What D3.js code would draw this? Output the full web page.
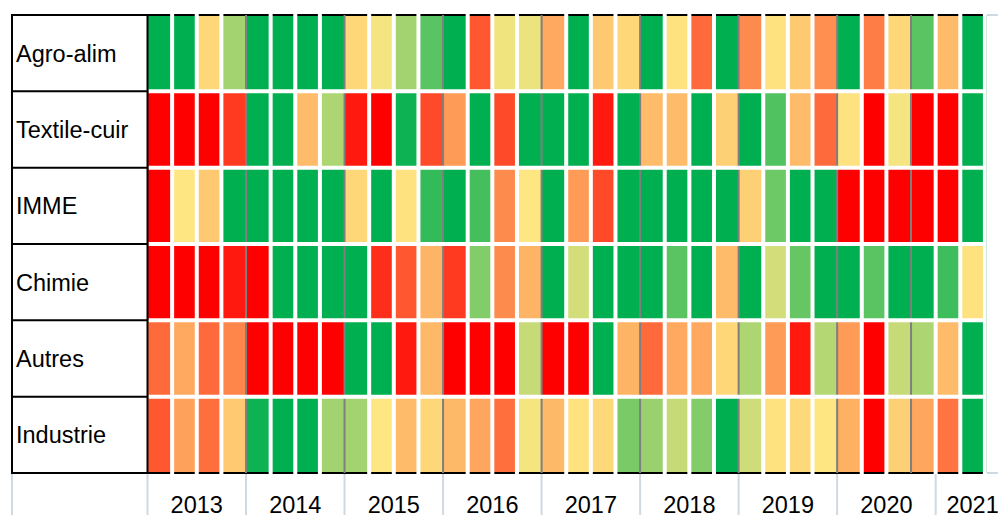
<!DOCTYPE html>
<html>
<head>
<meta charset="utf-8">
<script src="https://cdn.jsdelivr.net/npm/d3@7"></script>
<style>
body { margin: 0; background: #fff; }
#canvas { width: 998px; height: 515px; overflow: hidden; }
</style>
</head>
<body>
<div id="canvas"></div>
<script>
// ----------------------------------------------------------
// DATA -----------------------------------------------------
// ----------------------------------------------------------
var sectors = ["Agro-alim", "Textile-cuir", "IMME", "Chimie", "Autres", "Industrie"];

var years = ["2013", "2014", "2015", "2016", "2017", "2018", "2019", "2020", "2021"];

var quarter_names = ["T1", "T2", "T3", "T4"];

// score per quarter, -1 = red, 0 = yellow, +1 = green
var agro_alim = [1, 1, -0.07, 0.36, 1, 1, 1, 1, -0.07, 0.04, 0.36, 0.64, 1, -0.62, 0.055, 0.07, -0.27, 1, -0.13, -0.07, 1, -0.02, -0.54, 1, -0.4, -0.02, -0.13, -0.38, 1, -0.46, -0.07, 0.64, -0.19, 1];
var textile_cuir = [-1, -1, -1, -0.75, 1, 1, -0.19, 0.32, -0.89, -1, 0.95, -0.68, -0.33, 1, -0.68, 1, 1, 1, -0.89, 1, -0.19, -0.19, 1, -0.1, 1, 0.68, -0.19, -0.54, -0.02, -1, 0.04, -1, -1, 1];
var imme = [-1, 0, -0.13, 1, 1, 1, 1, 1, -0.07, 1, -0.02, 0.8, 1, 0.73, -0.4, 0, 1, -0.33, -0.68, 1, 1, 1, 1, 1, -0.1, 0.57, 1, 1, -1, -1, -1, -1, -1, 1];
var chimie = [-1, -1, -1, -0.89, -1, 1, 1, 1, 1, -0.8, -0.62, -0.22, -0.75, 0.49, -0.4, -0.22, 1, 0.17, 1, 1, 1, 0.64, 1, -0.19, 1, 0.17, 0.6, 1, 1, 0.64, 1, 1, 0.76, -0.02];
var autres = [-0.54, -0.27, -0.54, -0.42, -1, -1, -1, -1, 1, 1, -0.89, -0.2, -1, -1, -1, 0.22, -1, -1, 1, -0.22, -0.54, -0.27, -0.27, -0.07, 0.32, -0.33, -0.89, 0.29, -0.33, -1, 0.22, 0.32, -0.19, 1];
var industrie = [-0.62, -0.3, -0.52, -0.13, 0.95, 1, 1, 0.36, 0.36, 0, -0.19, -0.07, -0.2, -0.28, -0.52, 0.04, -0.2, -0.02, -0.06, 0.52, 0.4, 0.22, 0.49, 1, 0.19, -0.02, -0.06, 0, -0.24, -1, -0.1, -0.28, -0.5, 1];

// quarters where a dark divider is drawn on the left side
var divider_quarters = ["2014 T1", "2015 T1", "2016 T1", "2017 T1", "2018 T1", "2019 T1", "2020 T1", "2020 T4"];

var data_set =
{
container_width: 998,
container_height: 515,
table_left: 12,
grid_left: 147.5,
grid_top: 15,
grid_bottom: 473,
quarter_width: 24.63,
gap: 4,
font_size: 23.5,
color_red: "#ff0000",
color_yellow: "#fee782",
color_green: "#00b050",
color_border: "#000",
color_divider: "#7f7f7f",
color_axis: "#d0d8e4",
color_text: "#000"
};

// quarter categories: 2013 T1 ... 2021 T3 (last slot is empty)
var quarters = years.flatMap((y) => quarter_names.map((q) => y + " " + q)).slice(0, 35);

var series = [agro_alim, textile_cuir, imme, chimie, autres, industrie];

var cells = [];
sectors.forEach((s, i) => {
series[i].forEach((v, j) => {
cells.push({ sector: s, quarter: quarters[j], value: v });
});
});

// ----------------------------------------------------------
// STRUCTURE ------------------------------------------------
// ----------------------------------------------------------
var container = d3.select("#canvas").append("svg")
.attr("width", data_set.container_width)
.attr("height", data_set.container_height)
.style("font-family", "'Liberation Sans', Arial, sans-serif");

var gfx_group = container.append("g").attr("class", "gfx_group");
var table_group = container.append("g").attr("class", "table_group");
var axis_group = container.append("g").attr("class", "axis_group");

// ----------------------------------------------------------
// SCALES ---------------------------------------------------
// ----------------------------------------------------------
var xScale = d3.scaleBand()
.domain(quarters)
.range([data_set.grid_left, data_set.grid_left + quarters.length * data_set.quarter_width]);

var yScale = d3.scaleBand()
.domain(sectors)
.range([data_set.grid_top, data_set.grid_bottom]);

var colorScale = d3.scaleLinear()
.domain([-1, 0, 1])
.range([data_set.color_red, data_set.color_yellow, data_set.color_green])
.clamp(true);

var data_end = xScale(quarters[agro_alim.length - 1]) + xScale.bandwidth();

// ----------------------------------------------------------
// GFX ------------------------------------------------------
// ----------------------------------------------------------

// CELLS ----------------------------------------------------
gfx_group.selectAll(".cell")
.data(cells)
.enter()
.append("rect")
.attr("class", "cell")
.attr("x", (d) => xScale(d.quarter))
.attr("y", (d) => yScale(d.sector))
.attr("width", xScale.bandwidth())
.attr("height", yScale.bandwidth())
.style("fill", (d) => colorScale(d.value));

// top / bottom border over the data
[data_set.grid_top, data_set.grid_bottom].forEach((y) => {
gfx_group.append("line")
.attr("x1", data_set.grid_left)
.attr("x2", data_end)
.attr("y1", y)
.attr("y2", y)
.style("stroke", data_set.color_border)
.style("stroke-width", 2);
// empty slot
gfx_group.append("line")
.attr("x1", data_end + 2)
.attr("x2", data_set.container_width)
.attr("y1", y)
.attr("y2", y)
.style("stroke", data_set.color_axis)
.style("stroke-width", 2);
});

// dark dividers
gfx_group.selectAll(".divider")
.data(divider_quarters)
.enter()
.append("line")
.attr("class", "divider")
.attr("x1", (d) => xScale(d))
.attr("x2", (d) => xScale(d))
.attr("y1", data_set.grid_top)
.attr("y2", data_set.grid_bottom)
.style("stroke", data_set.color_divider)
.style("stroke-width", 2);

// white gaps between quarters
var gap_quarters = quarters.slice(1, agro_alim.length + 1).filter((q) => divider_quarters.indexOf(q) < 0);
gfx_group.selectAll(".gap_v")
.data(gap_quarters)
.enter()
.append("line")
.attr("class", "gap_v")
.attr("x1", (d) => xScale(d))
.attr("x2", (d) => xScale(d))
.attr("y1", data_set.grid_top - 3)
.attr("y2", data_set.grid_bottom + 3)
.style("stroke", "#fff")
.style("stroke-width", data_set.gap);

// white gaps between sectors
gfx_group.selectAll(".gap_h")
.data(sectors.slice(1))
.enter()
.append("line")
.attr("class", "gap_h")
.attr("x1", data_set.grid_left + 1)
.attr("x2", data_end + 2)
.attr("y1", (d) => yScale(d))
.attr("y2", (d) => yScale(d))
.style("stroke", "#fff")
.style("stroke-width", data_set.gap);

// faint edge of the empty slot
gfx_group.append("line")
.attr("x1", data_end + 1.5)
.attr("x2", data_end + 1.5)
.attr("y1", data_set.grid_top)
.attr("y2", data_set.grid_bottom)
.style("stroke", "#c9ead6")
.style("stroke-width", 1);

// ----------------------------------------------------------
// TABLE ----------------------------------------------------
// ----------------------------------------------------------
table_group.append("rect")
.attr("x", data_set.table_left)
.attr("y", data_set.grid_top)
.attr("width", data_set.grid_left - data_set.table_left)
.attr("height", data_set.grid_bottom - data_set.grid_top)
.style("fill", "#fff")
.style("stroke", data_set.color_border)
.style("stroke-width", 2);

table_group.selectAll(".row_line")
.data(sectors.slice(1))
.enter()
.append("line")
.attr("class", "row_line")
.attr("x1", data_set.table_left)
.attr("x2", data_set.grid_left)
.attr("y1", (d) => yScale(d))
.attr("y2", (d) => yScale(d))
.style("stroke", data_set.color_border)
.style("stroke-width", 2);

table_group.selectAll(".row_label")
.data(sectors)
.enter()
.append("text")
.attr("class", "row_label")
.attr("x", data_set.table_left + 4)
.attr("y", (d) => yScale(d) + yScale.bandwidth() / 2 + data_set.font_size * 0.36)
.style("font-size", data_set.font_size + "px")
.style("fill", data_set.color_text)
.text((d) => d);

// ----------------------------------------------------------
// AXIS -----------------------------------------------------
// ----------------------------------------------------------
var year_span = (y) => {
var qs = quarters.filter((q) => q.startsWith(y));
return [xScale(qs[0]), xScale(qs[qs.length - 1]) + xScale.bandwidth()];
};

var tick_x = [data_set.table_left].concat(years.map((y) => year_span(y)[0]));

axis_group.selectAll(".tick_line")
.data(tick_x)
.enter()
.append("line")
.attr("class", "tick_line")
.attr("x1", (d) => d)
.attr("x2", (d) => d)
.attr("y1", data_set.grid_bottom + 1)
.attr("y2", data_set.container_height)
.style("stroke", data_set.color_axis)
.style("stroke-width", 2);

axis_group.selectAll(".year_label")
.data(years)
.enter()
.append("text")
.attr("class", "year_label")
.attr("x", (d) => (year_span(d)[0] + year_span(d)[1]) / 2)
.attr("y", data_set.container_height - 2)
.attr("text-anchor", "middle")
.style("font-size", data_set.font_size + "px")
.style("fill", data_set.color_text)
.text((d) => d);
</script>
</body>
</html>
